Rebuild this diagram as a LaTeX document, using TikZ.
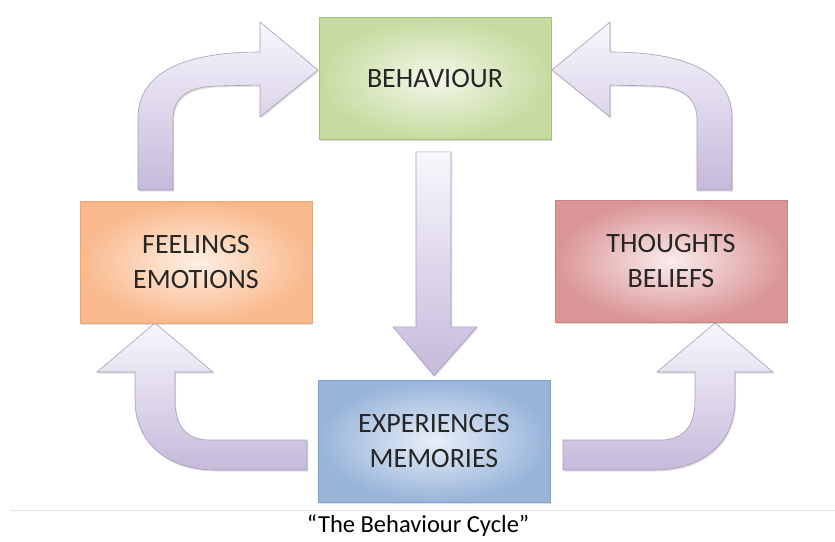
\documentclass[tikz,border=0pt]{standalone}
\usepackage{fontspec}
\setmainfont{Carlito}
\usepackage{tikz}
\usetikzlibrary{shadows,positioning,calc}

\definecolor{txtgray}{HTML}{262626}
\definecolor{arrowtop}{HTML}{F8F7FC}
\definecolor{arrowbot}{HTML}{C6B9DB}
\definecolor{arrowline}{HTML}{A59DB8}
\definecolor{behout}{HTML}{C6DB9F}
\definecolor{behin}{HTML}{F3F7EA}
\definecolor{behline}{HTML}{A3C078}
\definecolor{feelout}{HTML}{F9B98C}
\definecolor{feelin}{HTML}{FEEFE4}
\definecolor{feelline}{HTML}{EFA571}
\definecolor{thouout}{HTML}{DA9596}
\definecolor{thouin}{HTML}{FAECEC}
\definecolor{thouline}{HTML}{C98183}
\definecolor{expout}{HTML}{97B4D9}
\definecolor{expin}{HTML}{E8EFF8}
\definecolor{expline}{HTML}{809FC8}

\tikzset{
  cyclebox/.style={draw, line width=0.7pt, minimum width=232pt, minimum height=122pt,
    align=center, text=txtgray, font=\fontsize{28}{35}\selectfont,
    drop shadow={opacity=0.25, shadow xshift=1.2pt, shadow yshift=-1.5pt}},
  blockarrow/.style={draw=arrowline, line width=0.6pt, top color=arrowtop, bottom color=arrowbot,
    drop shadow={opacity=0.25, shadow xshift=1pt, shadow yshift=-1.5pt}}
}

\begin{document}
\begin{tikzpicture}[x=1pt,y=-1pt]
            % canvas
            \fill[white] (0,0) rectangle (835,541);
            \useasboundingbox (0,0) rectangle (835,541);
            % draw curved arrows on top
            \path[blockarrow] (138,190) -- (138,118) .. controls (138,72) and (185,52) .. (260,52)
                  -- (260,22) -- (318,70) -- (260,117) -- (260,85) -- (215,86)
                  .. controls (190,87) and (173,96) .. (173,120) -- (173,190) -- cycle;
            \path[blockarrow] (732,190) -- (732,118) .. controls (732,72) and (685,52) .. (610,52)
                  -- (610,22) -- (552,70) -- (610,117) -- (610,85) -- (655,86)
                  .. controls (680,87) and (697,96) .. (697,120) -- (697,190) -- cycle;
            % draw curved arrows at bottom
            \path[blockarrow] (307,440) -- (210,440) .. controls (188,440) and (175,428) .. (175,400)
                  -- (175,372) -- (213,372) -- (155,323) -- (97,372) -- (135,372) -- (135,400)
                  .. controls (135,445) and (170,470) .. (215,470) -- (307,470) -- cycle;
            \path[blockarrow] (563,440) -- (660,440) .. controls (682,440) and (695,428) .. (695,400)
                  -- (695,372) -- (657,372) -- (715,323) -- (773,372) -- (735,372) -- (735,400)
                  .. controls (735,445) and (700,470) .. (655,470) -- (563,470) -- cycle;
            % draw boxes
            \node[cyclebox, draw=behline, inner color=behin, outer color=behout]
                  (behaviour) at (435,78.5) {BEHAVIOUR};
            \node[cyclebox, draw=feelline, inner color=feelin, outer color=feelout]
                  (feelings) at (196,262.5) {FEELINGS\\EMOTIONS};
            \node[cyclebox, draw=thouline, inner color=thouin, outer color=thouout]
                  (thoughts) at (671,261) {THOUGHTS\\BELIEFS};
            \node[cyclebox, draw=expline, inner color=expin, outer color=expout]
                  (experiences) at (434,441) {EXPERIENCES\\MEMORIES};
            % draw straight arrow
            \path[blockarrow] ($(behaviour.south)+(-19,12)$) -- ++(35,0) -- ++(0,175) -- ++(26,0)
                  -- ($(experiences.north)+(0,-4)$) -- ($(behaviour.south)+(-42,187)$)
                  -- ++(23,0) -- cycle;
            % caption
            \draw[gray!22, line width=0.8pt] (10,510) coordinate (rulestart) -- (835,510) coordinate (ruleend);
            \node[text=black, font=\fontsize{24.5}{29}\selectfont] (caption) at (418,526)
                  {“The Behaviour Cycle”};
\end{tikzpicture}
\end{document}
